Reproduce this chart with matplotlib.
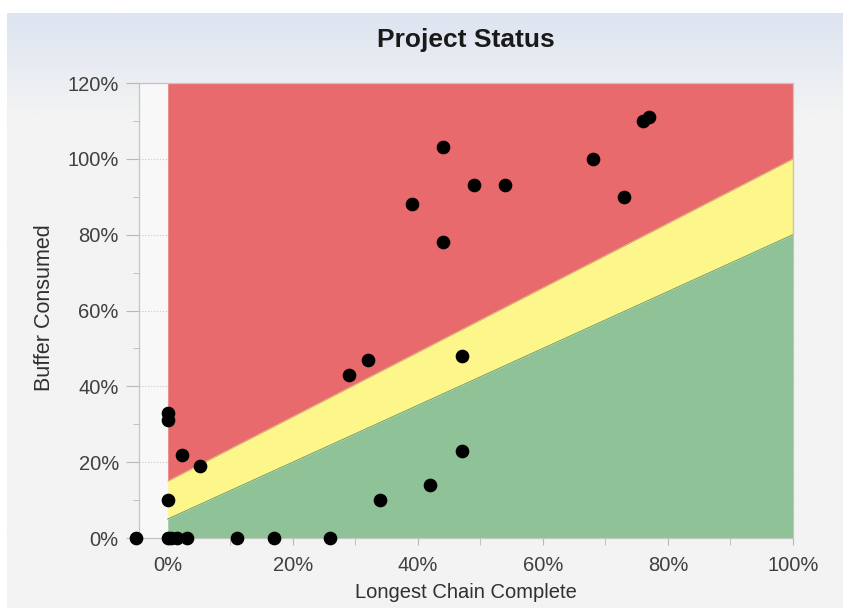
import matplotlib.pyplot as plt
import numpy as np
from matplotlib.colors import LinearSegmentedColormap
from matplotlib.ticker import MultipleLocator, PercentFormatter

plt.rcParams['font.family'] = ['Liberation Sans', 'DejaVu Sans']

# chain complete (%) and buffer consumed (%) for each project
chain_complete = [-5, 0, 0.5, 1.5, 3, 11, 17, 26, 0, 0, 0, 2.2, 5.2,
                  34, 42, 47, 47, 29, 32, 39, 44, 44, 49, 54, 68, 73, 76, 77]
buffer_consumed = [0, 0, 0, 0, 0, 0, 0, 0, 10, 31, 33, 22, 19,
                   10, 14, 23, 48, 43, 47, 88, 78, 103, 93, 93, 100, 90, 110, 111]

# zone boundaries: buffer % at 0% and 100% chain complete
green_top = [5, 80]
yellow_top = [15, 100]
red_top = [120, 120]
zone_x = [0, 100]

W, H = 843, 608
fig = plt.figure(figsize=(W / 100, H / 100), dpi=100)
fig.patch.set_facecolor('white')

# panel background, light gray with a soft blue band at the top
bg = fig.add_axes([7 / W, 0, 1 - 7 / W, (H - 13) / H], zorder=-10)
band = 1 - (115 - 13) / (H - 13)
grad_cmap = LinearSegmentedColormap.from_list(
    'g', [(0, '#f3f3f3'), (band, '#f3f3f3'), (1, '#dde5f1')])
g = np.linspace(0, 1, 600).reshape(-1, 1)
bg.imshow(g, cmap=grad_cmap, aspect='auto', origin='lower', extent=[0, 1, 0, 1])
bg.axis('off')

ax = fig.add_axes([139 / W, (H - 538) / H, (793 - 139) / W, (538 - 83) / H])
ax.set_facecolor('#f8f8f8')

ax.fill_between(zone_x, 0, green_top, color='#8fc296', lw=0, zorder=1)
ax.fill_between(zone_x, green_top, yellow_top, color='#fdf68a', lw=0, zorder=1)
ax.fill_between(zone_x, yellow_top, red_top, color='#e96a6c', lw=0, zorder=1)
ax.plot(zone_x, green_top, color='#6fa57a', lw=0.8, zorder=2)
ax.plot(zone_x, yellow_top, color='#d8c870', lw=0.6, zorder=2)
ax.plot([100, 100], [0, 120], color='#9a9a9a', lw=0.8, zorder=2)

ax.scatter(chain_complete, buffer_consumed, s=78, color='black', zorder=5, clip_on=False)

ax.set_xlim(-4.6, 100)
ax.set_ylim(0, 120)
ax.xaxis.set_major_locator(MultipleLocator(20))
ax.xaxis.set_minor_locator(MultipleLocator(10))
ax.yaxis.set_major_locator(MultipleLocator(20))
ax.yaxis.set_minor_locator(MultipleLocator(10))
ax.xaxis.set_major_formatter(PercentFormatter(decimals=0))
ax.yaxis.set_major_formatter(PercentFormatter(decimals=0))
ax.yaxis.grid(True, which='major', color='#c8c8c8', ls=':', lw=0.8, zorder=0)
ax.set_axisbelow(True)

ax.tick_params(axis='both', which='both', colors='#b8b8b8', labelcolor='#404040',
               labelsize=14.5, direction='out')
ax.tick_params(axis='y', which='major', length=9.5, pad=5)
ax.tick_params(axis='y', which='minor', length=4.5)
ax.tick_params(axis='x', which='major', length=5, pad=8)
ax.tick_params(axis='x', which='minor', length=5)
for s in ax.spines.values():
    s.set_color('#c4c4c4')
    s.set_linewidth(0.9)

fig.text(466 / W, 1 - 40 / H, 'Project Status', ha='center', va='center',
         fontsize=19, fontweight='bold', color='#1a1a1a')
fig.text(466 / W, 1 - 593 / H, 'Longest Chain Complete', ha='center', va='center',
         fontsize=14.5, color='#303030')
fig.text(45 / W, 1 - 308 / H, 'Buffer Consumed', ha='center', va='center',
         rotation=90, fontsize=15.5, color='#303030')

fig.savefig('out.png', dpi=100, facecolor=fig.get_facecolor())
